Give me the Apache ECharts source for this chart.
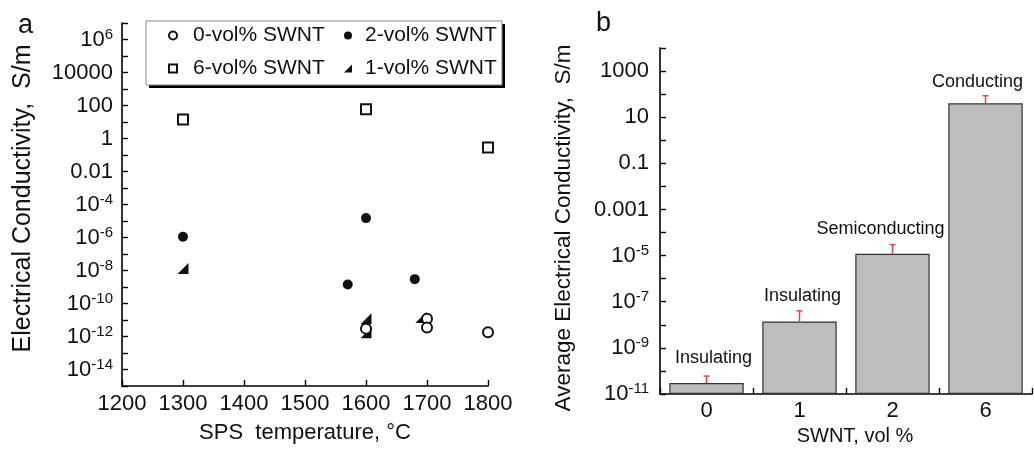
<!DOCTYPE html>
<html><head><meta charset="utf-8">
<script src="https://cdn.jsdelivr.net/npm/echarts@6/dist/echarts.min.js"></script>
<style>html,body{margin:0;padding:0;background:#fff}#c{width:1034px;height:452px}</style>
</head><body><div id="c"></div>
<script>
// ---- Panel a data ----
const tempMin = 1200, tempMax = 1800, tempStep = 100;
const seriesNames = ['0-vol% SWNT', '2-vol% SWNT', '6-vol% SWNT', '1-vol% SWNT'];
const vol0 = [[1600, 3e-12], [1700, 1.2e-11], [1700, 3.5e-12], [1800, 1.8e-12]];
const vol2 = [[1300, 1.1e-6], [1600, 1.5e-5], [1570, 1.4e-9], [1680, 3e-9]];
const vol6 = [[1300, 14], [1600, 60], [1800, 0.28]];
const vol1 = [[1300, 1.3e-8], [1600, 1.2e-11], [1600, 1.7e-12], [1690, 1.4e-11]];
const yExpRangeA = [-15, 7];
const yTickExpA = [6, 4, 2, 0, -2, -4, -6, -8, -10, -12, -14];
const yTickTextA = ['10^6', '10000', '100', '1', '0.01', '10^-4', '10^-6', '10^-8', '10^-10', '10^-12', '10^-14'];

// ---- Panel b data ----
const swntCats = ['0', '1', '2', '6'];
const avgCond = [3e-11, 1.4e-8, 1.2e-5, 40];
const errUpper = [6e-11, 4e-8, 3e-5, 85];
const barLabels = ['Insulating', 'Insulating', 'Semiconducting', 'Conducting'];
const yExpRangeB = [-11, 4];
const yTickExpB = [3, 1, -1, -3, -5, -7, -9, -11];
const yTickTextB = ['1000', '10', '0.1', '0.001', '10^-5', '10^-7', '10^-9', '10^-11'];

const FONT = '"Liberation Sans", Arial, Helvetica, sans-serif';
const INK = '#111';
const barLabelShift = [[7, 0], [3, 0], [-12, 0], [-8, 4]];

const pow10 = e => Number('1e' + e);
function decades(r) { const out = []; for (let e = r[0]; e <= r[1]; e++) out.push(pow10(e)); return out; }

function logFmt(exps, texts) {
  return function (v) {
    const e = Math.round(Math.log10(v));
    const i = exps.indexOf(e);
    if (i < 0) return '';
    const parts = texts[i].split('^');
    return parts.length > 1 ? '{b|' + parts[0] + '}{s|' + parts[1] + '}' : '{b|' + texts[i] + '}';
  };
}
const richLbl = {
  b: { fontSize: 22, color: INK, fontFamily: FONT },
  s: { fontSize: 15, color: INK, fontFamily: FONT, padding: [0, 0, 10, 0] }
};
const axisLineSt = { show: true, lineStyle: { color: '#000', width: 1.6 } };
const tickSt = vals => ({ show: true, inside: true, length: 6, customValues: vals, lineStyle: { color: '#000', width: 1.4 } });

function legendCol(names, left, gapW) {
  return {
    data: names, z: 10, left: left, top: 21, orient: 'vertical',
    itemGap: 12, itemWidth: 8, itemHeight: 8, padding: [4, 0, 0, 0],
    selectedMode: false,
    formatter: n => '{p| }{t|' + n + '}',
    textStyle: { fontSize: 21, color: INK, fontFamily: FONT,
      rich: { p: { width: gapW, fontSize: 21 }, t: { fontSize: 21, color: INK, fontFamily: FONT } } }
  };
}

const chart = echarts.init(document.getElementById('c'), null, { renderer: 'canvas' });
chart.setOption({
  animation: false,
  backgroundColor: '#fff',
  textStyle: { fontFamily: FONT, color: INK },
  title: [
    { text: 'a', left: 18, top: 12, padding: 0, textStyle: { fontSize: 27, fontWeight: 'normal', color: INK, fontFamily: FONT } },
    { text: 'b', left: 596, top: 10, padding: 0, textStyle: { fontSize: 27, fontWeight: 'normal', color: INK, fontFamily: FONT } }
  ],
  graphic: [
    { type: 'rect', z: 1, shape: { x: 146, y: 21, width: 356, height: 64 },
      style: { fill: '#fff', shadowColor: '#000', shadowOffsetX: 3, shadowOffsetY: 3, shadowBlur: 0 } },
    { type: 'rect', z: 2, shape: { x: 146, y: 21, width: 356, height: 64 },
      style: { fill: 'none', stroke: '#888', lineWidth: 1 } }
  ],
  legend: [
    legendCol([seriesNames[0], seriesNames[2]], 168, 11),
    legendCol([seriesNames[1], seriesNames[3]], 344, 8)
  ],
  grid: [
    { left: 122, top: 23, width: 366, height: 363 },
    { left: 660, top: 48, width: 372, height: 346 }
  ],
  xAxis: [
    {
      gridIndex: 0, type: 'value', min: tempMin, max: tempMax, interval: tempStep,
      axisLine: axisLineSt, axisTick: { show: true, inside: true, length: 6, lineStyle: { color: '#000', width: 1.4 } },
      splitLine: { show: false },
      axisLabel: { fontSize: 22, color: INK, margin: 7, fontFamily: FONT, formatter: v => String(v) },
      name: 'SPS  temperature, °C', nameLocation: 'middle', nameGap: 36,
      nameTextStyle: { fontSize: 22, color: INK, fontFamily: FONT }
    },
    {
      gridIndex: 1, type: 'category', data: swntCats,
      axisLine: axisLineSt, axisTick: { show: true, inside: true, length: 6, lineStyle: { color: '#000', width: 1.4 } },
      splitLine: { show: false },
      axisLabel: { fontSize: 22, color: INK, margin: 6, fontFamily: FONT },
      name: 'SWNT, vol %', nameLocation: 'middle', nameGap: 30,
      nameTextStyle: { fontSize: 20, color: INK, fontFamily: FONT, padding: [0, 0, 0, 18] }
    }
  ],
  yAxis: [
    {
      gridIndex: 0, type: 'log', logBase: 10, min: pow10(yExpRangeA[0]), max: pow10(yExpRangeA[1]),
      axisLine: axisLineSt, axisTick: tickSt(decades(yExpRangeA)), splitLine: { show: false }, minorTick: { show: false },
      axisLabel: { customValues: yTickExpA.map(pow10), formatter: logFmt(yTickExpA, yTickTextA), rich: richLbl, margin: 9 },
      name: 'Electrical Conductivity,  S/m', nameLocation: 'middle', nameGap: 86, nameRotate: 90,
      nameTextStyle: { fontSize: 25, color: INK, fontFamily: FONT, padding: [0, 0, 0, 12] }
    },
    {
      gridIndex: 1, type: 'log', logBase: 10, min: pow10(yExpRangeB[0]), max: pow10(yExpRangeB[1]), startValue: pow10(yExpRangeB[0]),
      axisLine: axisLineSt, axisTick: tickSt(decades(yExpRangeB)), splitLine: { show: false }, minorTick: { show: false },
      axisLabel: { customValues: yTickExpB.map(pow10), formatter: logFmt(yTickExpB, yTickTextB), rich: richLbl, margin: 11 },
      name: 'Average Electrical Conductivity,  S/m', nameLocation: 'middle', nameGap: 85, nameRotate: 90,
      nameTextStyle: { fontSize: 22.5, color: INK, fontFamily: FONT, padding: [0, 14, 0, 0] }
    }
  ],
  series: [
    { name: seriesNames[0], type: 'scatter', xAxisIndex: 0, yAxisIndex: 0, data: vol0,
      symbol: 'emptyCircle', symbolSize: 10, itemStyle: { color: INK, borderWidth: 1.2, opacity: 1 }, z: 4 },
    { name: seriesNames[1], type: 'scatter', xAxisIndex: 0, yAxisIndex: 0, data: vol2,
      symbol: 'circle', symbolSize: 10, itemStyle: { color: INK, opacity: 1 } },
    { name: seriesNames[2], type: 'scatter', xAxisIndex: 0, yAxisIndex: 0, data: vol6,
      symbol: 'emptyRect', symbolSize: 10, itemStyle: { color: INK, borderWidth: 1.2, opacity: 1 } },
    { name: seriesNames[3], type: 'scatter', xAxisIndex: 0, yAxisIndex: 0, data: vol1,
      symbol: 'path://M10,0L10,10L0,10Z', symbolSize: 11, itemStyle: { color: INK, opacity: 1 } },
    {
      type: 'bar', xAxisIndex: 1, yAxisIndex: 1, barWidth: '80%',
      data: avgCond.map((v, i) => ({ value: v, label: { offset: barLabelShift[i] } })),
      itemStyle: { color: '#bdbdbd', borderColor: '#333', borderWidth: 1.2 },
      label: { show: true, position: 'top', distance: 16, fontSize: 18, color: INK, fontFamily: FONT,
        formatter: p => barLabels[p.dataIndex] }
    },
    {
      type: 'custom', xAxisIndex: 1, yAxisIndex: 1, z: 5,
      data: avgCond.map((v, i) => [i, v, errUpper[i]]),
      encode: { x: 0, y: [1, 2] },
      renderItem: function (params, api) {
        const x = api.value(0);
        const lo = api.coord([x, api.value(1)]);
        const hi = api.coord([x, api.value(2)]);
        const hw = 3;
        const st = { stroke: '#d8465a', lineWidth: 1.5 };
        return { type: 'group', children: [
          { type: 'line', shape: { x1: lo[0], y1: lo[1], x2: hi[0], y2: hi[1] }, style: st },
          { type: 'line', shape: { x1: hi[0] - hw, y1: hi[1], x2: hi[0] + hw, y2: hi[1] }, style: st }
        ] };
      }
    }
  ]
});
</script>
</body></html>
